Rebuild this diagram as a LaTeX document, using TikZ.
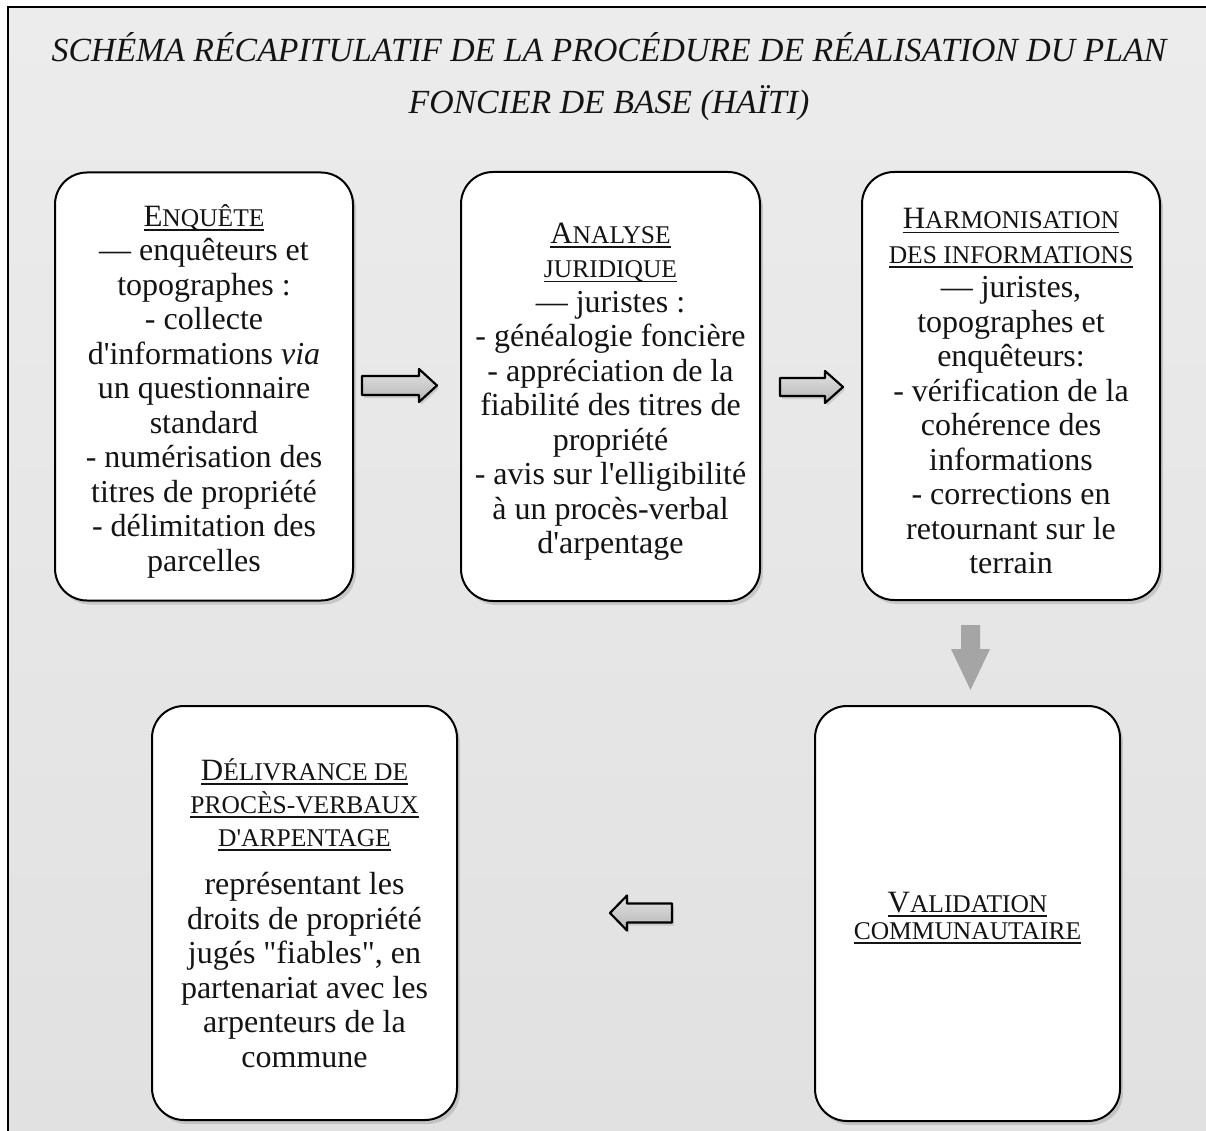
\documentclass[tikz,border=0pt]{standalone}
\usepackage{fontspec}
\setmainfont{Liberation Serif}[Ligatures=TeXOff]
\usetikzlibrary{shadows,calc}
\definecolor{bgtop}{RGB}{236,236,236}
\definecolor{bgbot}{RGB}{225,225,225}
\definecolor{arrgray}{RGB}{165,165,165}
\definecolor{inkc}{RGB}{20,20,20}
\newcommand\hbig[1]{{\fontsize{31}{34.5}\selectfont #1}}
\newcommand\hsm[1]{{\fontsize{25.5}{34.5}\selectfont #1}}
\newcommand\hul[1]{\leavevmode\setbox0\hbox{#1}\rlap{\rule[-4.5pt]{\wd0}{1.8pt}}\box0}
\newcommand\topstrut[1]{\rule{0pt}{#1}}
\tikzset{
  card/.style={draw=black, line width=2pt, fill=white, rounded corners=32pt,
    drop shadow={shadow xshift=3pt, shadow yshift=-4pt, opacity=0.3},
    align=center, inner sep=0pt, text=inkc, font=\fontsize{32}{34.5}\selectfont},
  flatarrow/.style={draw=black, line width=2.2pt, line join=round,
    top color={rgb,255:red,226;green,226;blue,226}, bottom color={rgb,255:red,182;green,182;blue,182},
    drop shadow={shadow xshift=2pt, shadow yshift=-3pt, opacity=0.25}},
  downarrow/.style={fill=arrgray, draw=none},
  titletext/.style={anchor=base, text=inkc, inner sep=0pt, font=\fontsize{33.8}{38}\selectfont\itshape},
}
\begin{document}
\begin{tikzpicture}[x=1pt,y=-1pt]
\useasboundingbox (0,0) rectangle (1206,1131);
\fill[white] (0,0) rectangle (1206,1131);
\shade[top color=bgtop, bottom color=bgbot] (8,7) rectangle (1206,1131);
\draw[line width=2.5pt, black] (8,1131) -- (8,7) -- (1206,7);

\node[titletext] (t1) at (609,62) {SCHÉMA RÉCAPITULATIF DE LA PROCÉDURE DE RÉALISATION DU PLAN};
\node[titletext] (t2) at (609,114) {FONCIER DE BASE (HAÏTI)};

\node[card, minimum width=298pt, minimum height=428pt] (b1) at (204,386.5) {%
\topstrut{31pt}\hul{\hbig{E}\hsm{NQUÊTE}}\\
— enquêteurs et\\
topographes :\\
- collecte\\
d'informations \textit{via}\\
un questionnaire\\
standard\\
- numérisation des\\
titres de propriété\\
- délimitation des\\
parcelles};

\node[card, minimum width=299pt, minimum height=429pt] (b2) at (610.5,386.5) {%
\topstrut{31pt}\hul{\hbig{A}\hsm{NALYSE}}\\
\hul{\hsm{JURIDIQUE}}\\
— juristes :\\
- généalogie foncière\\
- appréciation de la\\
fiabilité des titres de\\
propriété\\
- avis sur l'elligibilité\\
à un procès-verbal\\
d'arpentage};

\node[card, minimum width=298pt, minimum height=428pt] (b3) at (1011,386) {%
\topstrut{31pt}\hul{\hbig{H}\hsm{ARMONISATION}}\\
\hul{\hsm{DES INFORMATIONS}}\\
— juristes,\\
topographes et\\
enquêteurs:\\
- vérification de la\\
cohérence des\\
informations\\
- corrections en\\
retournant sur le\\
terrain};

\node[card, minimum width=305pt, minimum height=414pt] (b4) at (304.5,913) {%
\hul{\hbig{D}\hsm{ÉLIVRANCE DE}}\\[-1.5pt]
\hul{\hsm{PROCÈS-VERBAUX}}\\[-1.5pt]
\hul{\hsm{D'ARPENTAGE}}\\[14pt]
représentant les\\
droits de propriété\\
jugés "fiables", en\\
partenariat avec les\\
arpenteurs de la\\
commune};

\node[card, minimum width=305pt, minimum height=415pt] (b5) at (967.5,913.5) {%
\topstrut{29pt}\hul{\hbig{V}\hsm{ALIDATION}}\\[-7.5pt]
\hul{\hsm{COMMUNAUTAIRE}}};

% block arrows
\coordinate (a12) at (399.5,385.5);
\draw[flatarrow, shift={(a12)}] (-37.5,-9.5) -- (19.5,-9.5) -- (19.5,-16.5) -- (37.5,0) -- (19.5,16.5) -- (19.5,9.5) -- (-37.5,9.5) -- cycle;

\coordinate (a23) at (811.5,387);
\draw[flatarrow, shift={(a23)}] (-31.5,-9) -- (13.5,-9) -- (13.5,-16) -- (31.5,0) -- (13.5,16) -- (13.5,9) -- (-31.5,9) -- cycle;

\coordinate (a35) at (970.5,657.5);
\fill[downarrow, shift={(a35)}] (-9.5,-32.5) -- (9.5,-32.5) -- (9.5,-8.5) -- (19.5,-8.5) -- (0,32.5) -- (-19.5,-8.5) -- (-9.5,-8.5) -- cycle;

\coordinate (a54) at (641,913);
\draw[flatarrow, shift={(a54)}] (31,-9.5) -- (-14,-9.5) -- (-14,-17.5) -- (-31,0) -- (-14,17.5) -- (-14,9.5) -- (31,9.5) -- cycle;
\end{tikzpicture}
\end{document}
